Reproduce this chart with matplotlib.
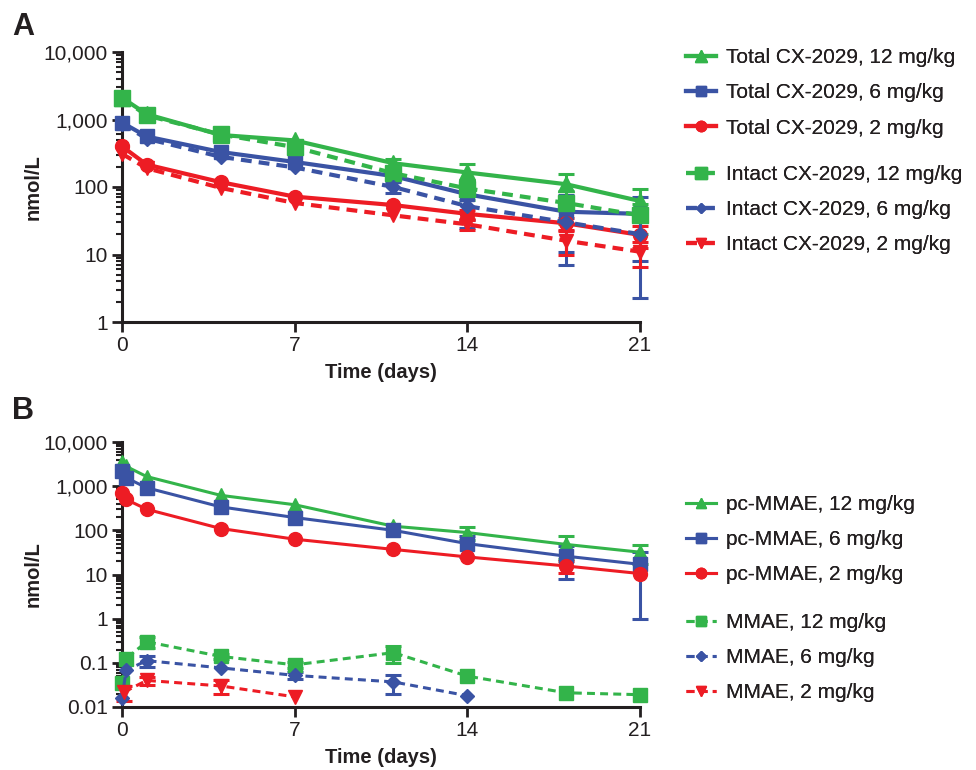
import numpy as np
import matplotlib
matplotlib.use('Agg')
import matplotlib.pyplot as plt
import matplotlib.ticker as mtick

plt.rcParams['font.family'] = ['Liberation Sans', 'DejaVu Sans']

# 1. DATA

days_a = [0, 1, 4, 7, 11, 14, 18, 21]

total_12 = [2100, 1200, 590, 490, 225, 164, 110, 62]
total_12_sd = [0, 0, 0, 0, 32, 54, 45, 32]
total_6 = [900, 560, 330, 235, 145, 78, 43, 40]
total_6_sd = [0, 0, 0, 0, 0, 45, 32, 32]
total_2 = [400, 215, 118, 72, 54, 40, 29, 19.5]
total_2_sd = [0, 0, 0, 0, 0, 6, 6, 7]

intact_12 = [2050, 1150, 600, 390, 160, 95, 58, 38]
intact_12_sd = [0, 0, 0, 0, 25, 30, 30, 18]
intact_6 = [860, 520, 280, 195, 100, 52, 30, 20]
intact_6_sd = [0, 0, 0, 0, 18, 27, 23, 17.7]
intact_2 = [310, 190, 97, 58, 38, 28, 16, 11]
intact_2_sd = [0, 0, 0, 0, 0, 5, 6, 4.5]

days_b = [0, 0.17, 1, 4, 7, 11, 14, 18, 21]

pc_12 = [3600, 2800, 1650, 620, 380, 124, 89, 48, 32]
pc_12_sd = [0, 0, 0, 0, 0, 0, 30, 25, 15]
pc_6 = [2200, 1550, 920, 340, 195, 100, 50, 26, 17]
pc_6_sd = [0, 0, 0, 0, 0, 0, 25, 18, 16]
pc_2 = [700, 500, 300, 110, 63, 37, 25, 15.6, 10.5]
pc_2_sd = [0, 0, 0, 0, 0, 0, 0, 5, 0]

mmae_12 = [0.035, 0.125, 0.3, 0.14, 0.09, 0.17, 0.05, 0.021, 0.019]
mmae_12_sd = [0, 0, 0.08, 0.02, 0.015, 0.07, 0, 0, 0]
days_mmae_6 = [0, 0.17, 1, 4, 7, 11, 14]
mmae_6 = [0.016, 0.068, 0.112, 0.077, 0.052, 0.037, 0.018]
mmae_6_sd = [0, 0, 0.03, 0, 0.01, 0.017, 0]
days_mmae_2 = [0.1, 1, 4, 7]
mmae_2 = [0.022, 0.04, 0.03, 0.017]
mmae_2_sd = [0.008, 0.008, 0.01, 0]

GREEN = '#33b44a'
BLUE = '#3a53a4'
RED = '#ed1c24'
TEXT = '#231f20'
DASH = (0, (2.6, 1.7))


# 2. HELPERS

def draw_series(ax, x, y, sd, color, marker, ms, lw, ls, label):
    x = np.asarray(x, dtype=float)
    y = np.asarray(y, dtype=float)
    sd = np.asarray(sd, dtype=float)
    keep = sd > 0
    if keep.any():
        ax.errorbar(x[keep], y[keep], yerr=sd[keep], fmt='none', ecolor=color,
                    elinewidth=2.2, capsize=6, capthick=2.2, clip_on=False, zorder=2)
    line, = ax.plot(x, y, color=color, marker=marker, ms=ms, lw=lw, linestyle=ls,
                    label=label, clip_on=False, zorder=3)
    return line


def style_axes(ax, ymin, ymax, labels):
    ax.set_yscale('log')
    ax.set_ylim(ymin, ymax)
    ax.set_xlim(0, 21)
    ax.set_xticks([0, 7, 14, 21])
    ticks = [ymin * 10 ** i for i in range(len(labels))]
    ax.yaxis.set_major_locator(mtick.FixedLocator(ticks))
    ax.yaxis.set_major_formatter(mtick.FixedFormatter(labels))
    ax.yaxis.set_minor_locator(mtick.LogLocator(base=10, subs=np.arange(2, 10), numticks=20))
    ax.yaxis.set_minor_formatter(mtick.NullFormatter())
    for side in ['top', 'right']:
        ax.spines[side].set_visible(False)
    for side in ['left', 'bottom']:
        ax.spines[side].set_linewidth(2.2)
        ax.spines[side].set_color(TEXT)
    ax.tick_params(axis='both', which='major', length=7, width=2.0, color=TEXT,
                   labelsize=15, labelcolor=TEXT, pad=3)
    ax.tick_params(axis='y', which='minor', length=4, width=1.5, color=TEXT)
    ax.set_ylabel('nmol/L', fontsize=14.5, fontweight='bold', color=TEXT, labelpad=1)
    ax.set_xlabel('Time (days)', fontsize=14.5, fontweight='bold', color=TEXT, labelpad=6)


def add_legend(fig, handles, top):
    leg = fig.legend(handles, [h.get_label() for h in handles], loc='upper left',
                     bbox_to_anchor=(686 / 976, top), frameon=False, fontsize=15,
                     handlelength=1.45, handletextpad=0.45, labelspacing=0.78,
                     borderpad=0, borderaxespad=0, markerscale=0.75)
    for t in leg.get_texts():
        t.set_color(TEXT)
    fig.add_artist(leg)


# 3. FIGURE

fig = plt.figure(figsize=(9.76, 7.70), dpi=100)
ax_a = fig.add_axes([122 / 976, 1 - 322 / 770, 518 / 976, 270 / 770])
ax_b = fig.add_axes([122 / 976, 1 - 707 / 770, 518 / 976, 265 / 770])

# Panel A
h_a = [
    draw_series(ax_a, days_a, total_12, total_12_sd, GREEN, '^', 11, 3, '-', 'Total CX-2029, 12 mg/kg'),
    draw_series(ax_a, days_a, total_6, total_6_sd, BLUE, 's', 10, 3, '-', 'Total CX-2029, 6 mg/kg'),
    draw_series(ax_a, days_a, total_2, total_2_sd, RED, 'o', 10, 3, '-', 'Total CX-2029, 2 mg/kg'),
]
h_a2 = [
    draw_series(ax_a, days_a, intact_12, intact_12_sd, GREEN, 's', 11, 3, DASH, 'Intact CX-2029, 12 mg/kg'),
    draw_series(ax_a, days_a, intact_6, intact_6_sd, BLUE, 'D', 7, 3, DASH, 'Intact CX-2029, 6 mg/kg'),
    draw_series(ax_a, days_a, intact_2, intact_2_sd, RED, 'v', 10, 3, DASH, 'Intact CX-2029, 2 mg/kg'),
]
style_axes(ax_a, 1, 10000, ['1', '10', '100', '1,000', '10,000'])

# Panel B
h_b = [
    draw_series(ax_b, days_b, pc_12, pc_12_sd, GREEN, '^', 10, 2.2, '-', 'pc-MMAE, 12 mg/kg'),
    draw_series(ax_b, days_b, pc_6, pc_6_sd, BLUE, 's', 10, 2.2, '-', 'pc-MMAE, 6 mg/kg'),
    draw_series(ax_b, days_b, pc_2, pc_2_sd, RED, 'o', 10, 2.2, '-', 'pc-MMAE, 2 mg/kg'),
]
h_b2 = [
    draw_series(ax_b, days_b, mmae_12, mmae_12_sd, GREEN, 's', 10, 2.2, DASH, 'MMAE, 12 mg/kg'),
    draw_series(ax_b, days_mmae_6, mmae_6, mmae_6_sd, BLUE, 'D', 7, 2.2, DASH, 'MMAE, 6 mg/kg'),
    draw_series(ax_b, days_mmae_2, mmae_2, mmae_2_sd, RED, 'v', 10, 2.2, DASH, 'MMAE, 2 mg/kg'),
]
style_axes(ax_b, 0.01, 10000, ['0.01', '0.1', '1', '10', '100', '1,000', '10,000'])

# Legends
add_legend(fig, h_a, 1 - 48 / 770)
add_legend(fig, h_a2, 1 - 165 / 770)
add_legend(fig, h_b, 1 - 495 / 770)
add_legend(fig, h_b2, 1 - 613 / 770)

# Panel letters
fig.text(12 / 976, 1 - 12 / 770, 'A', fontsize=22, fontweight='bold', va='top', color=TEXT)
fig.text(12 / 976, 1 - 396 / 770, 'B', fontsize=22, fontweight='bold', va='top', color=TEXT)

plt.savefig('out.png', dpi=100)
plt.close()
